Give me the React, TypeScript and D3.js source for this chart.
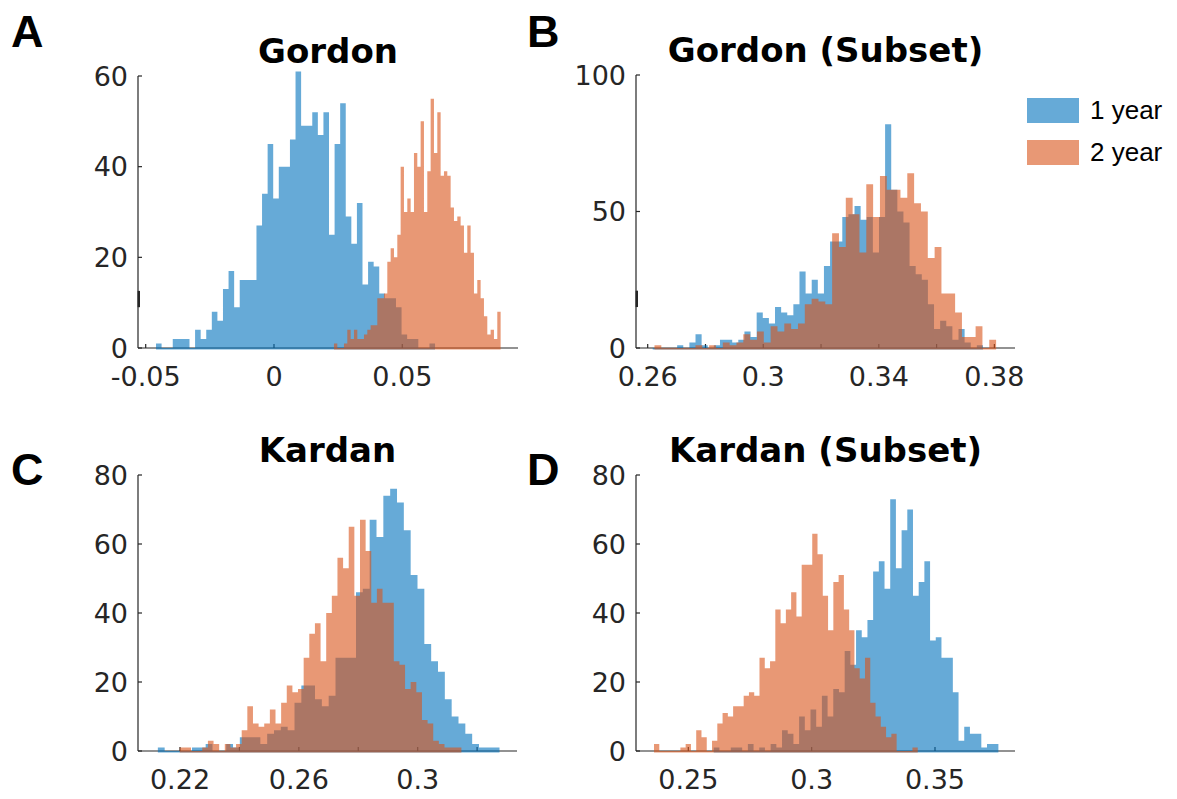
import { useEffect, useRef } from "react"
import * as d3 from "d3"

const seriesNames = ["1 year", "2 year"]

// A: Gordon
const gordonBlueStart = -0.04598
const gordonBlueWidth = 0.002175
const gordonBlue = [1, 0, 0, 2, 2, 2, 0, 4, 2, 4, 8, 6, 13, 17, 9, 15, 15, 15, 27, 34, 45, 33, 40, 40, 46, 61, 49, 49, 52, 47, 52, 25, 45, 54, 29, 23, 32, 14, 19, 18, 12, 11, 11, 9, 3, 2, 2, 0, 0, 1]
const gordonOrangeStart = 0.02338
const gordonOrangeWidth = 0.001299
const gordonOrange = [1, 0, 0, 1, 4, 2, 4, 2, 2, 3, 4, 5, 5, 11, 11, 12, 19, 22, 20, 25, 40, 30, 33, 30, 43, 40, 50, 30, 39, 55, 43, 52, 38, 39, 38, 31, 28, 29, 27, 21, 27, 21, 12, 15, 11, 7, 3, 4, 2, 8]
const gordonXTicks = [-0.05, 0, 0.05]
const gordonXLabels = [-0.05, 0, 0.05]
const gordonYTicks = [0, 20, 40, 60]

// B: Gordon (Subset)
const gordonSubBlueStart = 0.26173
const gordonSubBlueWidth = 0.002117
const gordonSubBlue = [0, 0, 0, 0, 1, 0, 2, 5, 1, 0, 1, 3, 3, 2, 3, 6, 4, 13, 11, 9, 15, 13, 12, 16, 28, 20, 25, 20, 30, 39, 39, 48, 49, 52, 47, 48, 35, 48, 82, 58, 50, 46, 30, 27, 25, 16, 7, 10, 8, 3, 7, 2, 0, 1]
const gordonSubOrangeStart = 0.26235
const gordonSubOrangeWidth = 0.002365
const gordonSubOrange = [1, 0, 0, 0, 0, 0, 1, 0, 1, 0, 2, 1, 2, 5, 3, 6, 2, 8, 6, 9, 7, 9, 16, 18, 17, 16, 42, 37, 55, 49, 35, 60, 48, 63, 58, 58, 55, 64, 53, 50, 33, 37, 20, 20, 13, 4, 4, 8, 0, 3]
const gordonSubXTicks = [0.26, 0.28, 0.3, 0.32, 0.34, 0.36, 0.38]
const gordonSubXLabels = [0.26, 0.3, 0.34, 0.38]
const gordonSubYTicks = [0, 50, 100]

// C: Kardan
const kardanBlueStart = 0.21254
const kardanBlueWidth = 0.0023
const kardanBlue = [1, 0, 0, 0, 0, 1, 1, 2, 0, 0, 2, 1, 4, 4, 4, 2, 5, 6, 7, 6, 14, 19, 19, 15, 13, 16, 27, 27, 27, 46, 47, 67, 62, 74, 76, 72, 64, 51, 47, 31, 26, 23, 15, 10, 8, 5, 2, 1, 1, 1]
const kardanOrangeStart = 0.21991
const kardanOrangeWidth = 0.001896
const kardanOrange = [1, 1, 0, 0, 1, 3, 2, 0, 2, 1, 2, 6, 13, 8, 7, 8, 12, 8, 14, 19, 17, 18, 27, 34, 37, 26, 40, 45, 56, 53, 65, 45, 67, 58, 43, 47, 43, 43, 26, 25, 18, 20, 17, 9, 8, 3, 2, 1, 1, 1]
const kardanXTicks = [0.22, 0.24, 0.26, 0.28, 0.3, 0.32]
const kardanXLabels = [0.22, 0.26, 0.3]
const kardanYTicks = [0, 20, 40, 60, 80]

// D: Kardan (Subset)
const kardanSubBlueStart = 0.2603
const kardanSubBlueWidth = 0.002308
const kardanSubBlue = [1, 0, 0, 1, 1, 0, 2, 0, 1, 0, 2, 1, 6, 5, 2, 10, 6, 12, 7, 16, 10, 18, 17, 29, 25, 35, 33, 38, 52, 55, 47, 73, 53, 64, 70, 45, 49, 55, 32, 33, 27, 27, 17, 3, 7, 5, 5, 1, 2, 2]
const kardanSubOrangeStart = 0.2361
const kardanSubOrangeWidth = 0.002138
const kardanSubOrange = [2, 0, 0, 0, 0, 1, 2, 0, 6, 4, 0, 3, 8, 11, 10, 13, 13, 16, 17, 16, 27, 24, 26, 41, 37, 41, 46, 39, 54, 54, 63, 57, 45, 35, 49, 51, 41, 35, 24, 21, 27, 14, 10, 7, 4, 5, 0, 0, 0, 1]
const kardanSubXTicks = [0.25, 0.3, 0.35]
const kardanSubXLabels = [0.25, 0.3, 0.35]
const kardanSubYTicks = [0, 20, 40, 60, 80]

const BLUE = "rgb(0,114,189)"
const ORANGE = "rgb(217,83,25)"
const AXIS = "#262626"
const NUM_FONT = "'DejaVu Sans', sans-serif"

const panels = [
  {
    letter: "A", title: "Gordon", left: 138, right: 518, top: 76, bottom: 348,
    xDomain: [-0.053, 0.0951], yMax: 60, xTicks: gordonXTicks, xLabels: gordonXLabels, yTicks: gordonYTicks,
    blue: { start: gordonBlueStart, width: gordonBlueWidth, counts: gordonBlue },
    orange: { start: gordonOrangeStart, width: gordonOrangeWidth, counts: gordonOrange },
    letterX: 11, letterY: 47, mark: true,
  },
  {
    letter: "B", title: "Gordon (Subset)", left: 636, right: 1015, top: 75, bottom: 348,
    xDomain: [0.25595, 0.38714], yMax: 100, xTicks: gordonSubXTicks, xLabels: gordonSubXLabels, yTicks: gordonSubYTicks,
    blue: { start: gordonSubBlueStart, width: gordonSubBlueWidth, counts: gordonSubBlue },
    orange: { start: gordonSubOrangeStart, width: gordonSubOrangeWidth, counts: gordonSubOrange },
    letterX: 527, letterY: 47, mark: true,
  },
  {
    letter: "C", title: "Kardan", left: 138, right: 517, top: 475, bottom: 751,
    xDomain: [0.20586, 0.33343], yMax: 80, xTicks: kardanXTicks, xLabels: kardanXLabels, yTicks: kardanYTicks,
    blue: { start: kardanBlueStart, width: kardanBlueWidth, counts: kardanBlue },
    orange: { start: kardanOrangeStart, width: kardanOrangeWidth, counts: kardanOrange },
    letterX: 11, letterY: 485, mark: false,
  },
  {
    letter: "D", title: "Kardan (Subset)", left: 636, right: 1015, top: 475, bottom: 751,
    xDomain: [0.2288, 0.38243], yMax: 80, xTicks: kardanSubXTicks, xLabels: kardanSubXLabels, yTicks: kardanSubYTicks,
    blue: { start: kardanSubBlueStart, width: kardanSubBlueWidth, counts: kardanSubBlue },
    orange: { start: kardanSubOrangeStart, width: kardanSubOrangeWidth, counts: kardanSubOrange },
    letterX: 527, letterY: 485, mark: false,
  },
]

const App = () => {
  const svgRef = useRef<SVGSVGElement>(null)

  useEffect(() => {
    const svg = d3.select(svgRef.current)
    svg.selectAll("*").remove()

    panels.forEach((p) => {
      const g = svg.append("g")
      const x = d3.scaleLinear().domain(p.xDomain).range([p.left, p.right])
      const y = d3.scaleLinear().domain([0, p.yMax]).range([p.bottom, p.top])

      // axes (drawn under the bars, like MATLAB's default layer)
      g.append("line")
        .attr("x1", p.left).attr("x2", p.right)
        .attr("y1", p.bottom).attr("y2", p.bottom)
        .attr("stroke", AXIS).attr("stroke-width", 1.2)
      g.append("line")
        .attr("x1", p.left).attr("x2", p.left)
        .attr("y1", p.bottom).attr("y2", p.top)
        .attr("stroke", AXIS).attr("stroke-width", 1.2)

      if (p.mark) {
        const h = p.bottom - p.top
        g.append("line")
          .attr("x1", p.left + 0.8).attr("x2", p.left + 0.8)
          .attr("y1", p.bottom - h * 0.21).attr("y2", p.bottom - h * 0.15)
          .attr("stroke", AXIS).attr("stroke-width", 2.4)
      }

      g.selectAll(".xtick")
        .data(p.xTicks)
        .enter()
        .append("line")
        .attr("x1", (d) => x(d)).attr("x2", (d) => x(d))
        .attr("y1", p.bottom).attr("y2", p.bottom - 4)
        .attr("stroke", AXIS).attr("stroke-width", 1.2)

      g.selectAll(".ytick")
        .data(p.yTicks)
        .enter()
        .append("line")
        .attr("x1", p.left).attr("x2", p.left + 4)
        .attr("y1", (d) => y(d)).attr("y2", (d) => y(d))
        .attr("stroke", AXIS).attr("stroke-width", 1.2)

      g.selectAll(".xlabel")
        .data(p.xLabels)
        .enter()
        .append("text")
        .attr("x", (d) => x(d))
        .attr("y", p.bottom + 38)
        .attr("text-anchor", "middle")
        .style("font-family", NUM_FONT)
        .style("font-size", "27px")
        .style("fill", AXIS)
        .text((d) => String(d))

      g.selectAll(".ylabel")
        .data(p.yTicks)
        .enter()
        .append("text")
        .attr("x", p.left - 10)
        .attr("y", (d) => y(d))
        .attr("dy", "0.36em")
        .attr("text-anchor", "end")
        .style("font-family", NUM_FONT)
        .style("font-size", "27px")
        .style("fill", AXIS)
        .text((d) => String(d))

      // histograms, blue first, orange on top
      const hist = [
        { s: p.blue, color: BLUE },
        { s: p.orange, color: ORANGE },
      ]
      hist.forEach(({ s, color }) => {
        const pts = s.counts.map((c, i) => ({ e: s.start + i * s.width, c }))
        pts.push({ e: s.start + s.counts.length * s.width, c: s.counts[s.counts.length - 1] })
        const area = d3
          .area<{ e: number; c: number }>()
          .curve(d3.curveStepAfter)
          .x((d) => x(d.e))
          .y0(y(0) + 1.5)
          .y1((d) => y(d.c))
        g.append("path")
          .attr("d", area(pts))
          .attr("fill", color)
          .attr("fill-opacity", 0.6)
      })

      g.append("text")
        .attr("x", (p.left + p.right) / 2)
        .attr("y", p.top - 13)
        .attr("text-anchor", "middle")
        .style("font-family", "'DejaVu Sans', sans-serif")
        .style("font-weight", "bold")
        .style("font-size", "34px")
        .style("fill", "#000")
        .text(p.title)

      g.append("text")
        .attr("x", p.letterX)
        .attr("y", p.letterY)
        .style("font-family", "'Liberation Sans', Arial, sans-serif")
        .style("font-weight", "bold")
        .style("font-size", "45px")
        .style("fill", "#000")
        .text(p.letter)
    })

    // legend
    const legend = svg.append("g")
    const colors = [BLUE, ORANGE]
    seriesNames.forEach((name, i) => {
      legend.append("rect")
        .attr("x", 1027).attr("y", 98 + i * 42)
        .attr("width", 52).attr("height", 25)
        .attr("fill", colors[i]).attr("fill-opacity", 0.6)
      legend.append("text")
        .attr("x", 1090).attr("y", 119 + i * 42)
        .style("font-family", "'Liberation Sans', Arial, sans-serif")
        .style("font-size", "26px")
        .style("fill", "#000")
        .text(name)
    })
  }, [])

  return (
    <svg
      ref={svgRef}
      width={1177}
      height={799}
      style={{ position: "absolute", left: 0, top: 0, background: "#fff" }}
    ></svg>
  )
}

export default App
